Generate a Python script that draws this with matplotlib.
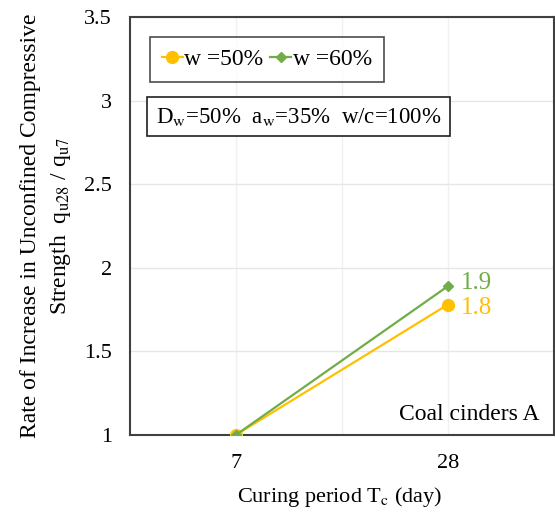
import matplotlib
matplotlib.use('Agg')
import matplotlib.pyplot as plt

plt.rcParams['font.family'] = ['Liberation Serif', 'DejaVu Serif']
plt.rcParams['mathtext.fontset'] = 'stix'

# data
periods = ['7', '28']
w50 = [1.0, 1.78]
w60 = [1.0, 1.89]
labels_end = ['1.8', '1.9']
yticks = [1, 1.5, 2, 2.5, 3, 3.5]

c50 = '#FFC000'
c60 = '#70AD47'

fig = plt.figure(figsize=(5.55, 5.19), dpi=100)
ax = fig.add_axes([0.234, 0.162, 0.764, 0.805])

x = list(range(len(periods)))
ax.plot(x, w50, '-o', color=c50, lw=1.6, ms=8.5, label='w =50%', zorder=3)
ax.plot(x, w60, '-D', color=c60, lw=1.6, ms=5.5, label='w =60%', zorder=4)

ax.text(x[1] + 0.06, w60[1] + 0.02, labels_end[1], color=c60, fontsize=18, va='center')
ax.text(x[1] + 0.06, w50[1] - 0.02, labels_end[0], color=c50, fontsize=18, va='center')

ax.set_xlim(-0.5, 1.5)
ax.set_ylim(1, 3.5)
ax.set_xticks(x)
ax.set_xticklabels(periods)
ax.set_yticks(yticks)
ax.set_yticklabels(['1', '1.5', '2', '2.5', '3', '3.5'])
ax.tick_params(axis='both', length=0, labelsize=16)
ax.tick_params(axis='y', pad=13)
ax.tick_params(axis='x', pad=14)

ax.grid(axis='y', color='#e6e6e6', lw=1)
for gx in [0, 0.5, 1]:
    ax.axvline(gx, color='#f0f0f0', lw=1, zorder=0)
ax.set_axisbelow(True)

for sp in ax.spines.values():
    sp.set_color('#404040')
    sp.set_linewidth(1.5)

ax.set_ylabel('Rate of Increase in Unconfined Compressive\n'
              r'Strength  q$_{\rm u28}$ / q$_{\rm u7}$',
              fontsize=17, linespacing=1.4)
ax.yaxis.set_label_coords(-0.134, 0.5)
ax.set_xlabel(r'Curing period T$_{\rm c}$ (day)', fontsize=16)
ax.xaxis.set_label_coords(0.495, -0.12)

leg = ax.legend(loc='upper left', bbox_to_anchor=(0.047, 0.953), ncol=2,
                fontsize=17, frameon=True, fancybox=False, handlelength=0.9,
                handletextpad=0.05, columnspacing=0.3, borderpad=0.5,
                borderaxespad=0)
leg.get_frame().set_edgecolor('#202020')
leg.get_frame().set_linewidth(1.2)

ax.text(0.062, 0.762, r'D$_{\rm w}$=50%  a$_{\rm w}$=35%  w/c=100%',
        transform=ax.transAxes, fontsize=16.5, va='center', ha='left',
        bbox=dict(boxstyle='square,pad=0.38', fc='white', ec='#202020', lw=1.2))

ax.text(0.965, 0.05, 'Coal cinders A', transform=ax.transAxes,
        fontsize=17, ha='right', va='center')

fig.savefig('out.png', dpi=100)
